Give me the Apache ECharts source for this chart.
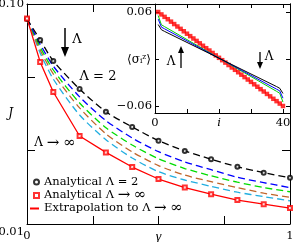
<!DOCTYPE html>
<html><head><meta charset="utf-8">
<script src="https://cdn.jsdelivr.net/npm/echarts@6/dist/echarts.min.js"></script>
<style>html,body{margin:0;padding:0;background:#fff}#c{width:293px;height:242px}</style>
</head><body><div id="c"></div>
<script>
// ---- main panel data: J versus gamma ----
const gamma = [0, 0.05, 0.1, 0.2, 0.3, 0.4, 0.5, 0.6, 0.7, 0.8, 0.9, 1.0];
const J_lambda2 = [0.0939, 0.0853, 0.0767, 0.0652, 0.0559, 0.0497, 0.0441, 0.0399, 0.0365, 0.0334, 0.0310, 0.0289];
const J_blue    = [0.0939, 0.0836, 0.0746, 0.0620, 0.0523, 0.0452, 0.0396, 0.0354, 0.0322, 0.0291, 0.0269, 0.0249];
const J_green   = [0.0939, 0.0824, 0.0730, 0.0595, 0.0494, 0.0423, 0.0367, 0.0327, 0.0297, 0.0271, 0.0249, 0.0232];
const J_brown   = [0.0939, 0.0812, 0.0714, 0.0575, 0.0469, 0.0395, 0.0339, 0.0300, 0.0273, 0.0249, 0.0226, 0.0209];
const J_cyan    = [0.0939, 0.0800, 0.0693, 0.0546, 0.0445, 0.0370, 0.0314, 0.0280, 0.0254, 0.0230, 0.0212, 0.0195];
const J_inf     = [0.0941, 0.0763, 0.0640, 0.0460, 0.0393, 0.0333, 0.0284, 0.0249, 0.0222, 0.0198, 0.0181, 0.0165];
const yTickLabels = ['0.01', '0.10'];
const xTickLabels = ['0', '1'];
const legendNames = ['Analytical Λ = 2', 'Analytical Λ → ∞', 'Extrapolation to Λ → ∞'];

// ---- inset data: <sigma_i^z> versus site i ----
const site = [1,2,3,4,5,6,7,8,9,10,11,12,13,14,15,16,17,18,19,20,21,22,23,24,25,26,27,28,29,30,31,32,33,34,35,36,37,38,39,40];
const sz_inf = [0.0600,0.0569,0.0538,0.0508,0.0477,0.0446,0.0415,0.0385,0.0354,0.0323,
                0.0292,0.0262,0.0231,0.0200,0.0169,0.0138,0.0108,0.0077,0.0046,0.0015,
               -0.0015,-0.0046,-0.0077,-0.0108,-0.0138,-0.0169,-0.0200,-0.0231,-0.0262,-0.0292,
               -0.0323,-0.0354,-0.0385,-0.0415,-0.0446,-0.0477,-0.0508,-0.0538,-0.0569,-0.0600];
const siteKey = [1, 2, 3, 38, 39, 40];
const sz_black = [0.0440, 0.0374, 0.0352, -0.0352, -0.0374, -0.0440];
const sz_blue  = [0.0510, 0.0407, 0.0385, -0.0385, -0.0407, -0.0500];
const sz_green = [0.0555, 0.0437, 0.0413, -0.0413, -0.0437, -0.0550];
const insetYLabels = ['0.06', '−0.06'];
const insetXLabels = ['0', 'i', '40'];
const insetYName = '⟨σᵢᶻ⟩';

const FONT = 'DejaVu Serif';
const FS = 11.5;
const toJ = J => +(J * 1000 - 10).toFixed(3);     // main y axis in (J-0.01)*1000
const toS = s => +(s * 100).toFixed(3);           // inset y axis in percent
const pairs = (xs, ys, f) => xs.map((x, k) => [x, f(ys[k])]);
const mathRich = s => s.split(/([→∞])/).filter(t => t !== '')
  .map(t => (t === '→' || t === '∞') ? '{m|' + t + '}' : '{n|' + t + '}').join('');

const chart = echarts.init(document.getElementById('c'), null, {renderer: 'canvas', width: 293, height: 242});

const blackLine = {color: '#000', width: 1};
const lbl = {fontFamily: FONT, fontSize: FS, color: '#000'};
const gridBase = {containLabel: false, outerBoundsMode: 'none'};
const richM = {m: {fontFamily: FONT, fontSize: 15, color: '#000', lineHeight: 13},
               n: {fontFamily: FONT, fontSize: FS, color: '#000', lineHeight: 13}};
const legendText = {fontFamily: FONT, fontSize: FS, color: '#000', padding: 0, rich: richM};

function dashed(name, ys, color) {
  return {type: 'line', xAxisIndex: 0, yAxisIndex: 0, data: pairs(gamma, ys, toJ),
    showSymbol: false, symbol: 'none', smooth: 0.25, z: 2,
    lineStyle: {color: color, width: 1.3, type: [7, 4]}};
}

const option = {
  animation: false,
  backgroundColor: '#fff',
  grid: [
    Object.assign({left: 27, right: 3, top: 4, bottom: 18, show: false}, gridBase),
    Object.assign({left: 155, right: 3, top: 4, bottom: 129, show: true, backgroundColor: '#fff', borderWidth: 0, z: 3}, gridBase),
    Object.assign({left: 155, right: 3, top: 12, bottom: 136, show: false, z: 3}, gridBase)
  ],
  xAxis: [
    {gridIndex: 0, type: 'value', min: 0, max: 1, interval: 0.25, position: 'bottom',
     axisLine: {onZero: false, lineStyle: blackLine}, axisTick: {inside: true, length: 8, lineStyle: blackLine},
     splitLine: {show: false},
     axisLabel: Object.assign({margin: 6, formatter: v => v === 0 ? xTickLabels[0] : (v === 1 ? xTickLabels[1] : '')}, lbl),
     name: 'γ', nameLocation: 'middle', nameGap: 6, nameMoveOverlap: false,
     nameTextStyle: {fontFamily: 'Liberation Serif', fontSize: 14, fontStyle: 'italic', color: '#000'}},
    {gridIndex: 0, type: 'value', min: 0, max: 1, interval: 0.25, position: 'top',
     axisLine: {onZero: false, lineStyle: blackLine}, axisTick: {inside: true, length: 8, lineStyle: blackLine},
     splitLine: {show: false}, axisLabel: {show: false}},
    {gridIndex: 1, type: 'value', min: 0, max: 42.2, interval: 10, position: 'bottom', z: 4,
     axisLine: {onZero: false, lineStyle: blackLine}, axisTick: {inside: true, length: 4, lineStyle: blackLine},
     splitLine: {show: false},
     axisLabel: Object.assign({margin: 4, formatter: v => v === 0 ? insetXLabels[0] : (v === 20 ? '{i|' + insetXLabels[1] + '}' : (v === 40 ? insetXLabels[2] : '')),
       rich: {i: {fontFamily: FONT, fontSize: FS, fontStyle: 'italic', color: '#000'}}}, lbl)},
    {gridIndex: 1, type: 'value', min: 0, max: 42.2, interval: 10, position: 'top', z: 4,
     axisLine: {onZero: false, lineStyle: blackLine}, axisTick: {inside: true, length: 4, lineStyle: blackLine},
     splitLine: {show: false}, axisLabel: {show: false}},
    {gridIndex: 2, type: 'value', min: 0, max: 42.2, show: false}
  ],
  yAxis: [
    {gridIndex: 0, type: 'value', min: 0, max: 90, interval: 30, position: 'left',
     axisLine: {onZero: false, lineStyle: blackLine}, axisTick: {inside: true, length: 8, lineStyle: blackLine},
     splitLine: {show: false},
     axisLabel: Object.assign({margin: 3, formatter: v => v === 0 ? '{lo|' + yTickLabels[0] + '}' : (v === 90 ? yTickLabels[1] : ''),
       rich: {lo: {fontFamily: FONT, fontSize: FS, color: '#000', padding: [16, 0, 0, 0]}}}, lbl),
     name: 'J', nameLocation: 'middle', nameGap: 14, nameRotate: 0, nameMoveOverlap: false,
     nameTextStyle: {fontFamily: FONT, fontSize: 12, fontStyle: 'italic', color: '#000'}},
    {gridIndex: 0, type: 'value', min: 0, max: 90, interval: 30, position: 'right',
     axisLine: {onZero: false, lineStyle: blackLine}, axisTick: {inside: true, length: 8, lineStyle: blackLine},
     splitLine: {show: false}, axisLabel: {show: false}},
    {gridIndex: 1, type: 'value', min: -7, max: 7, position: 'left', z: 4,
     axisLine: {show: true, onZero: false, lineStyle: blackLine}, axisTick: {show: false}, splitLine: {show: false}, axisLabel: {show: false}},
    {gridIndex: 1, type: 'value', min: -7, max: 7, position: 'right', z: 4,
     axisLine: {show: true, onZero: false, lineStyle: blackLine}, axisTick: {show: false}, splitLine: {show: false}, axisLabel: {show: false}},
    {gridIndex: 2, type: 'value', min: -6, max: 6, interval: 6, position: 'left', z: 4,
     axisLine: {show: false, onZero: false}, axisTick: {show: true, inside: true, length: 4, lineStyle: blackLine},
     splitLine: {show: false},
     axisLabel: Object.assign({margin: 3, formatter: v => v === 6 ? insetYLabels[0] : (v === -6 ? insetYLabels[1] : '')}, lbl)},
    {gridIndex: 2, type: 'value', min: -6, max: 6, interval: 6, position: 'right', z: 4,
     axisLine: {show: false, onZero: false}, axisTick: {show: true, inside: true, length: 4, lineStyle: blackLine},
     splitLine: {show: false}, axisLabel: {show: false}}
  ],
  legend: [
    {orient: 'vertical', left: 33, top: 176, itemGap: 0, itemWidth: 5, itemHeight: 5, padding: 0, itemTextGap: 5,
     selectedMode: false,
     data: [
       {name: legendNames[0], icon: 'emptyCircle', itemStyle: {color: '#000', borderColor: '#000', borderWidth: 1}},
       {name: legendNames[1], icon: 'emptyRect', itemStyle: {color: '#ff0000', borderColor: '#ff0000', borderWidth: 1}}
     ],
     formatter: name => mathRich(name), textStyle: legendText},
    {orient: 'vertical', left: 30, top: 201, itemWidth: 9, itemHeight: 2, padding: 0, itemTextGap: 4,
     selectedMode: false,
     data: [{name: legendNames[2], icon: 'rect', itemStyle: {color: '#ff0000', borderWidth: 0}}],
     formatter: name => mathRich(name), textStyle: legendText}
  ],
  series: [
    dashed('cyan', J_cyan, '#22aee0'),
    dashed('brown', J_brown, '#c0642a'),
    dashed('green', J_green, '#00dd00'),
    dashed('blue', J_blue, '#0000ff'),
    dashed('black', J_lambda2, '#000000'),
    {name: legendNames[2], type: 'line', xAxisIndex: 0, yAxisIndex: 0, data: pairs(gamma, J_inf, toJ),
     showSymbol: false, symbol: 'none', z: 2, lineStyle: {color: '#ff0000', width: 1.3}, itemStyle: {color: '#ff0000'}},
    {name: legendNames[0], type: 'scatter', xAxisIndex: 0, yAxisIndex: 0, data: pairs(gamma, J_lambda2, toJ),
     symbol: 'emptyCircle', symbolSize: 4, z: 3, itemStyle: {color: '#000', borderColor: '#000', borderWidth: 1}},
    {name: legendNames[1], type: 'scatter', xAxisIndex: 0, yAxisIndex: 0, data: pairs(gamma, J_inf, toJ),
     symbol: 'emptyRect', symbolSize: 4, z: 3, itemStyle: {color: '#ff0000', borderColor: '#ff0000', borderWidth: 1}},
    // inset
    {name: 'inset_inf', type: 'scatter', xAxisIndex: 4, yAxisIndex: 4, data: pairs(site, sz_inf, toS),
     symbol: 'rect', symbolSize: 4.5, z: 6, clip: false, itemStyle: {color: '#ff0000'}},
    {name: 'inset_green', type: 'line', xAxisIndex: 4, yAxisIndex: 4, data: pairs(siteKey, sz_green, toS),
     showSymbol: false, symbol: 'none', z: 7, lineStyle: {color: '#00cc00', width: 1}},
    {name: 'inset_blue', type: 'line', xAxisIndex: 4, yAxisIndex: 4, data: pairs(siteKey, sz_blue, toS),
     showSymbol: false, symbol: 'none', z: 7, lineStyle: {color: '#0000ff', width: 1}},
    {name: 'inset_black', type: 'line', xAxisIndex: 4, yAxisIndex: 4, data: pairs(siteKey, sz_black, toS),
     showSymbol: false, symbol: 'none', z: 7, lineStyle: {color: '#000', width: 1}}
  ],
  graphic: [
    // inset y-axis title
    {type: 'text', x: 139, y: 60, style: {text: insetYName, font: '12px "' + FONT + '"', fill: '#000', align: 'center', verticalAlign: 'middle'}, z: 10},
    // main arrow (Lambda increasing downward)
    {type: 'line', shape: {x1: 65, y1: 28, x2: 65, y2: 48}, style: {stroke: '#000', lineWidth: 1.5}, z: 10},
    {type: 'polygon', shape: {points: [[61, 47], [69, 47], [65, 57]]}, style: {fill: '#000'}, z: 10},
    {type: 'text', x: 77, y: 40, style: {text: 'Λ', font: '13px "' + FONT + '"', fill: '#000', align: 'center', verticalAlign: 'middle'}, z: 10},
    {type: 'text', x: 98, y: 77, style: {text: 'Λ = 2', font: '13px "' + FONT + '"', fill: '#000', align: 'center', verticalAlign: 'middle'}, z: 10},
    {type: 'text', x: 55, y: 143, style: {text: 'Λ {m|→} {m|∞}', font: '12px "' + FONT + '"', fill: '#000', align: 'center', verticalAlign: 'middle',
      rich: {m: {fontFamily: FONT, fontSize: 15, fill: '#000'}}}, z: 10},
    // inset arrows
    {type: 'line', shape: {x1: 181, y1: 52, x2: 181, y2: 68}, style: {stroke: '#000', lineWidth: 1.3}, z: 10},
    {type: 'polygon', shape: {points: [[178, 53], [184, 53], [181, 46]]}, style: {fill: '#000'}, z: 10},
    {type: 'text', x: 171, y: 62, style: {text: 'Λ', font: '12px "' + FONT + '"', fill: '#000', align: 'center', verticalAlign: 'middle'}, z: 10},
    {type: 'line', shape: {x1: 260, y1: 52, x2: 260, y2: 63}, style: {stroke: '#000', lineWidth: 1.3}, z: 10},
    {type: 'polygon', shape: {points: [[257, 62], [263, 62], [260, 69]]}, style: {fill: '#000'}, z: 10},
    {type: 'text', x: 269, y: 57, style: {text: 'Λ', font: '12px "' + FONT + '"', fill: '#000', align: 'center', verticalAlign: 'middle'}, z: 10}
  ]
};
chart.setOption(option);
</script>
</body></html>
